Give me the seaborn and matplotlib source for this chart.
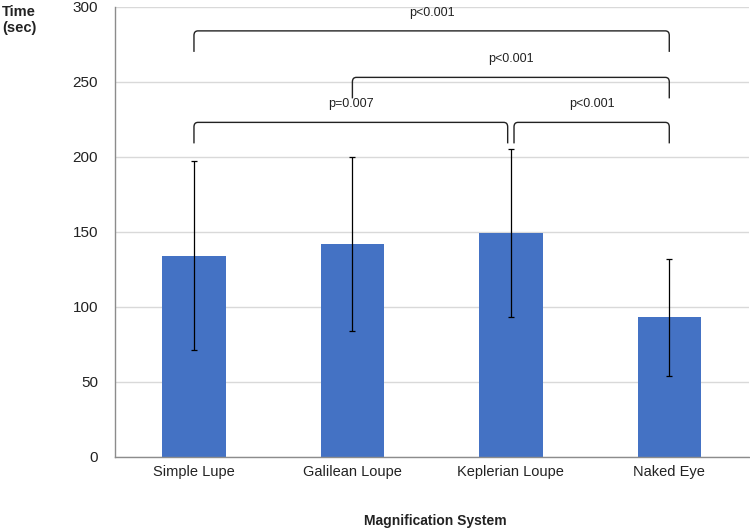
import matplotlib
matplotlib.use("Agg")
import matplotlib.pyplot as plt
import matplotlib.patches as mpatches
from matplotlib.path import Path
import seaborn as sns

systems = ["Simple Lupe", "Galilean Loupe", "Keplerian Loupe", "Naked Eye"]
mean_time = [134, 142, 149, 93]
sd_time = [63, 58, 56, 39]

# comparisons: (from index, to index, bracket level, label)
comparisons = [
    (0, 3, 284, "p<0.001"),
    (1, 3, 253, "p<0.001"),
    (0, 2, 223, "p=0.007"),
    (2, 3, 223, "p<0.001"),
]

sns.set_style("white")
plt.rcParams["font.family"] = ["Liberation Sans", "DejaVu Sans"]

fig = plt.figure(figsize=(7.5, 5.3), dpi=100)
ax = fig.add_axes([0.153, 0.138, 0.845, 0.849])

sns.barplot(x=systems, y=mean_time, color="#4472C4", width=0.4, saturation=1,
            linewidth=0, ax=ax)
ax.errorbar(range(len(systems)), mean_time, yerr=sd_time, fmt="none",
            ecolor="black", elinewidth=0.9, capsize=2.5, capthick=0.9)

ax.set_ylim(0, 300)
ax.set_xlim(-0.5, len(systems) - 0.5)
ax.set_yticks(range(0, 301, 50))
ax.yaxis.grid(True, color="#d9d9d9", linewidth=1)
ax.set_axisbelow(True)
for s in ["top", "right"]:
    ax.spines[s].set_visible(False)
for s in ["left", "bottom"]:
    ax.spines[s].set_color("#8c8c8c")
    ax.spines[s].set_linewidth(1)

ax.tick_params(axis="y", length=0, labelsize=11, pad=12, labelcolor="#222222")
ax.tick_params(axis="x", which="major", length=0, labelsize=10.5, pad=6, labelcolor="#222222")
ax.set_xticks([i - 0.5 for i in range(len(systems) + 1)], minor=True)
ax.tick_params(axis="x", which="minor", length=5, color="#8c8c8c")
ax.set_xlabel("")
ax.set_ylabel("")


def bracket(x0, x1, y, label, drop=14, rx=0.025, ry=3):
    verts = [
        (x0, y - drop), (x0, y - ry), (x0, y), (x0 + rx, y),
        (x1 - rx, y), (x1, y), (x1, y - ry), (x1, y - drop),
    ]
    codes = [Path.MOVETO, Path.LINETO, Path.CURVE3, Path.CURVE3,
             Path.LINETO, Path.CURVE3, Path.CURVE3, Path.LINETO]
    ax.add_patch(mpatches.PathPatch(Path(verts, codes), fill=False,
                                    edgecolor="#222222", linewidth=1, clip_on=False))
    ax.text((x0 + x1) / 2, y + 8, label, ha="center", va="bottom",
            fontsize=9, color="#222222")


for i, j, level, label in comparisons:
    x0, x1 = i, j
    if i == 0 and j == 2:
        x1 = j - 0.02
    if i == 2 and j == 3:
        x0 = i + 0.02
    bracket(x0, x1, level, label)

fig.text(0.003, 0.99, "Time\n(sec)", ha="left", va="top", fontsize=10.5,
         fontweight="bold", color="#222222", linespacing=1.15)
fig.text(0.58, 0.004, "Magnification System", ha="center", va="bottom",
         fontsize=10, fontweight="bold", color="#222222")

fig.savefig("out.png", dpi=100)
